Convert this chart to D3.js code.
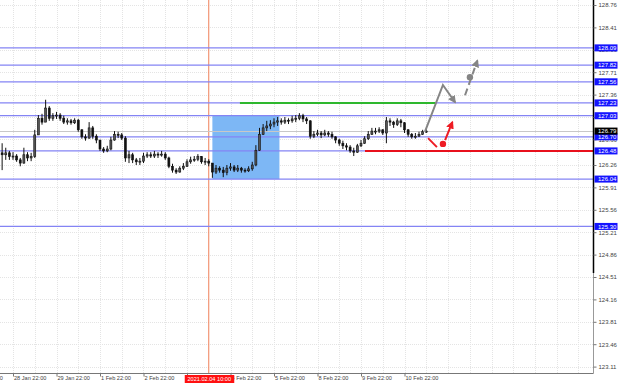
<!DOCTYPE html>
<html>
<head>
<meta charset="utf-8">
<script src="https://cdn.jsdelivr.net/npm/d3@7"></script>
<style>
body { margin: 0; background: #fff; }
</style>
</head>
<body>
<div id="canvas"></div>
<script>
"use strict"

let svgWidth = 620
let svgHeight = 385
let plotRight = 593.5
let plotBottom = 373.5

/* 2-hour bars, the first one starts 7 hours before 28 Jan 22:00 (hour 0) */
let firstBarHour = -7
let barHours = 2
let firstOpen = 126.45
let barClose = [126.42, 126.45, 126.39, 126.40, 126.34, 126.29, 126.42, 126.37, 126.39, 126.73,
    126.99, 126.93, 127.15, 126.99, 127.03, 127.04, 126.99, 126.93, 126.95, 126.92,
    126.96, 126.81, 126.70, 126.68, 126.84, 126.71, 126.65, 126.51, 126.48, 126.51,
    126.65, 126.74, 126.73, 126.68, 126.37, 126.42, 126.34, 126.31, 126.32, 126.40,
    126.42, 126.40, 126.43, 126.42, 126.43, 126.37, 126.24, 126.18, 126.15, 126.21,
    126.24, 126.31, 126.34, 126.35, 126.39, 126.31, 126.32, 126.29, 126.15, 126.21,
    126.18, 126.14, 126.21, 126.23, 126.18, 126.21, 126.18, 126.17, 126.20, 126.26,
    126.49, 126.74, 126.84, 126.87, 126.90, 126.93, 126.95, 126.93, 126.96, 126.95,
    126.98, 126.99, 127.03, 126.98, 126.95, 126.71, 126.74, 126.76, 126.73, 126.76,
    126.74, 126.70, 126.65, 126.60, 126.56, 126.54, 126.48, 126.46, 126.56, 126.60,
    126.67, 126.74, 126.79, 126.79, 126.81, 126.76, 126.95, 126.93, 126.89, 126.95,
    126.92, 126.81, 126.74, 126.70, 126.71, 126.74, 126.78, 126.79]
let barHigh = [126.60, 126.53, 126.48, 126.46, 126.43, 126.37, 126.53, 126.46, 126.45, 126.81,
    127.04, 127.06, 127.28, 127.18, 127.07, 127.09, 127.07, 127.03, 126.99, 126.98,
    126.99, 126.98, 126.82, 126.74, 126.93, 126.87, 126.74, 126.65, 126.54, 126.56,
    126.70, 126.79, 126.78, 126.76, 126.71, 126.48, 126.45, 126.37, 126.37, 126.45,
    126.46, 126.46, 126.48, 126.46, 126.48, 126.46, 126.39, 126.28, 126.21, 126.24,
    126.29, 126.35, 126.39, 126.40, 126.43, 126.40, 126.37, 126.35, 126.29, 126.26,
    126.24, 126.23, 126.26, 126.29, 126.26, 126.26, 126.23, 126.21, 126.24, 126.31,
    126.57, 126.84, 126.90, 126.95, 126.96, 126.99, 127.01, 126.99, 127.01, 126.99,
    127.03, 127.04, 127.07, 127.06, 127.01, 126.96, 126.79, 126.81, 126.79, 126.81,
    126.79, 126.78, 126.71, 126.67, 126.64, 126.60, 126.57, 126.53, 126.59, 126.65,
    126.71, 126.79, 126.84, 126.84, 126.85, 126.82, 127.01, 126.99, 126.95, 126.99,
    126.98, 126.93, 126.82, 126.76, 126.76, 126.78, 126.81, 126.82]
let barLow = [126.18, 126.34, 126.34, 126.34, 126.31, 126.24, 126.28, 126.32, 126.32, 126.37,
    126.73, 126.89, 126.93, 126.95, 126.95, 126.98, 126.95, 126.90, 126.89, 126.89,
    126.90, 126.78, 126.67, 126.64, 126.67, 126.67, 126.60, 126.48, 126.45, 126.46,
    126.49, 126.64, 126.68, 126.65, 126.31, 126.29, 126.29, 126.26, 126.26, 126.29,
    126.37, 126.37, 126.37, 126.37, 126.39, 126.34, 126.21, 126.14, 126.12, 126.14,
    126.18, 126.23, 126.28, 126.31, 126.32, 126.28, 126.26, 126.24, 126.06, 126.12,
    126.14, 126.07, 126.10, 126.17, 126.15, 126.15, 126.14, 126.14, 126.15, 126.17,
    126.24, 126.48, 126.73, 126.79, 126.82, 126.85, 126.87, 126.89, 126.90, 126.90,
    126.92, 126.93, 126.96, 126.93, 126.90, 126.67, 126.68, 126.71, 126.68, 126.71,
    126.70, 126.67, 126.60, 126.56, 126.51, 126.49, 126.45, 126.40, 126.45, 126.54,
    126.59, 126.65, 126.73, 126.74, 126.76, 126.73, 126.60, 126.87, 126.84, 126.87,
    126.85, 126.76, 126.70, 126.67, 126.67, 126.70, 126.73, 126.76]

/* time axis: hours from 28 Jan 22:00, trading hours only */
let dayHours = [-24, 0, 24, 48, 72, 96, 120, 144, 168, 192, 216]
let dayLabels = ["27 Jan 22:00", "28 Jan 22:00", "29 Jan 22:00", "1 Feb 22:00", "2 Feb 22:00",
    "3 Feb 22:00", "4 Feb 22:00", "5 Feb 22:00", "8 Feb 22:00", "9 Feb 22:00", "10 Feb 22:00"]
let gridHours = [-24, -12, 0, 12, 24, 36, 48, 60, 72, 84, 96, 120, 132, 144, 156, 168, 180,
    192, 204, 216, 228, 240, 252, 264, 276, 288, 300, 312, 324]
let markHour = 108
let markLabel = "2021.02.04 10:00"

/* price axis */
let priceTicks = [128.76, 128.41, 128.06, 127.71, 127.36, 127.01, 126.66, 126.26, 125.91, 125.56,
    125.21, 124.86, 124.51, 124.16, 123.81, 123.46, 123.11]
let levelPrices = [128.09, 127.82, 127.56, 127.23, 127.03, 126.70, 126.48, 126.04, 125.30]
let lastPrice = 126.79

/* drawn objects */
let zoneHours = [110, 147]
let zonePrices = [127.03, 126.04]
let greenHours = [125.2, 233]
let greenPrice = 127.23
let redHours = [194.2, 330]
let redPrice = 126.48
let grayPathHours = [227.3, 237.2, 243.9]
let grayPathPrices = [126.78, 127.51, 127.24]
let grayDashHours = [249.4, 256.2]
let grayDashPrices = [127.35, 127.89]
let grayDot = [252.1, 127.63]
let redDashHours = [229, 233.9]
let redDashPrices = [126.68, 126.54]
let redDot = [237.2, 126.59]
let redArrowHours = [238.4, 242.4]
let redArrowPrices = [126.65, 126.93]

let svg = d3.select("#canvas")
    .append("svg")
    .attr("width", svgWidth)
    .attr("height", svgHeight)
    .style("font-family", "'Liberation Sans', Arial, sans-serif")

let xScale = d3.scaleLinear().domain([0, 216]).range([13, 404.5])
let yScale = d3.scaleLinear().domain([123.11, 128.76]).range([366.6, 5])

/* build bar table */
let bars = barClose.map(function (c, i) {
    return {
        hour: firstBarHour + i * barHours + barHours / 2,
        open: i === 0 ? firstOpen : barClose[i - 1],
        close: c,
        high: barHigh[i],
        low: barLow[i]
    }
})

let defs = svg.append("defs")
function arrowMarker(id, color) {
    defs.append("marker")
        .attr("id", id)
        .attr("viewBox", "0 0 10 10")
        .attr("refX", 8)
        .attr("refY", 5)
        .attr("markerWidth", 4)
        .attr("markerHeight", 4)
        .attr("orient", "auto")
        .append("path")
        .attr("d", "M0,0 L10,5 L0,10 z")
        .attr("fill", color)
}
arrowMarker("arrowGray", "#858585")
arrowMarker("arrowRed", "#ee1c24")

let plot = svg.append("g")
svg.append("clipPath").attr("id", "plotClip")
    .append("rect").attr("width", plotRight).attr("height", plotBottom)
plot.attr("clip-path", "url(#plotClip)")

/* grid */
plot.selectAll("line.vgrid")
    .data(gridHours)
    .join("line")
    .classed("vgrid", true)
    .attr("x1", d => Math.round(xScale(d)) + 0.5)
    .attr("x2", d => Math.round(xScale(d)) + 0.5)
    .attr("y1", 0)
    .attr("y2", plotBottom)
    .attr("stroke", "#e4e4e4")
    .attr("stroke-dasharray", "1,1")

plot.selectAll("line.hgrid")
    .data(priceTicks)
    .join("line")
    .classed("hgrid", true)
    .attr("x1", 0)
    .attr("x2", plotRight)
    .attr("y1", d => Math.round(yScale(d)) + 0.5)
    .attr("y2", d => Math.round(yScale(d)) + 0.5)
    .attr("stroke", "#e4e4e4")
    .attr("stroke-dasharray", "1,1")

/* blue zone */
plot.append("rect")
    .attr("x", xScale(zoneHours[0]))
    .attr("y", yScale(zonePrices[0]))
    .attr("width", xScale(zoneHours[1]) - xScale(zoneHours[0]))
    .attr("height", yScale(zonePrices[1]) - yScale(zonePrices[0]))
    .attr("fill", "#7db7f5")

/* vertical time marker */
plot.append("rect")
    .attr("x", xScale(markHour) - 0.5)
    .attr("y", 0)
    .attr("width", 1)
    .attr("height", plotBottom)
    .attr("fill", "#f0805a")

/* horizontal levels */
plot.selectAll("line.level")
    .data(levelPrices)
    .join("line")
    .classed("level", true)
    .attr("x1", 0)
    .attr("x2", plotRight)
    .attr("y1", d => yScale(d))
    .attr("y2", d => yScale(d))
    .attr("stroke", "#8484f4")
    .attr("stroke-width", 1.3)

/* bid line */
plot.append("line")
    .attr("x1", 0)
    .attr("x2", plotRight)
    .attr("y1", Math.round(yScale(lastPrice)) + 0.5)
    .attr("y2", Math.round(yScale(lastPrice)) + 0.5)
    .attr("stroke", "#c8c8c8")

/* candles */
plot.selectAll("line.wick")
    .data(bars)
    .join("line")
    .classed("wick", true)
    .attr("x1", d => xScale(d.hour))
    .attr("x2", d => xScale(d.hour))
    .attr("y1", d => yScale(d.high))
    .attr("y2", d => yScale(d.low))
    .attr("stroke", "#111")
    .attr("stroke-width", 1)

plot.selectAll("rect.body")
    .data(bars)
    .join("rect")
    .classed("body", true)
    .attr("x", d => xScale(d.hour) - 1)
    .attr("width", 2)
    .attr("y", d => yScale(Math.max(d.open, d.close)))
    .attr("height", d => Math.max(1, Math.abs(yScale(d.open) - yScale(d.close))))
    .attr("fill", d => d.close >= d.open ? "#555" : "#111")
    .attr("stroke", "#111")
    .attr("stroke-width", 0.6)

/* green and red lines */
plot.append("line")
    .attr("x1", xScale(greenHours[0]))
    .attr("x2", xScale(greenHours[1]))
    .attr("y1", yScale(greenPrice))
    .attr("y2", yScale(greenPrice))
    .attr("stroke", "#2eb82e")
    .attr("stroke-width", 2)

plot.append("line")
    .attr("x1", xScale(redHours[0]))
    .attr("x2", xScale(redHours[1]))
    .attr("y1", yScale(redPrice))
    .attr("y2", yScale(redPrice))
    .attr("stroke", "#e8101c")
    .attr("stroke-width", 2)

/* forecast arrows */
let line = d3.line().x(d => xScale(d[0])).y(d => yScale(d[1]))

plot.append("path")
    .attr("d", line(d3.zip(grayPathHours, grayPathPrices)))
    .attr("fill", "none")
    .attr("stroke", "#858585")
    .attr("stroke-width", 2)
    .attr("marker-end", "url(#arrowGray)")

plot.append("path")
    .attr("d", line(d3.zip(grayDashHours, grayDashPrices)))
    .attr("fill", "none")
    .attr("stroke", "#858585")
    .attr("stroke-width", 2)
    .attr("stroke-dasharray", "7,4")
    .attr("marker-end", "url(#arrowGray)")

plot.append("circle")
    .attr("cx", xScale(grayDot[0]))
    .attr("cy", yScale(grayDot[1]))
    .attr("r", 3.2)
    .attr("fill", "#858585")

plot.append("path")
    .attr("d", line(d3.zip(redDashHours, redDashPrices)))
    .attr("fill", "none")
    .attr("stroke", "#ee1c24")
    .attr("stroke-width", 2)

plot.append("circle")
    .attr("cx", xScale(redDot[0]))
    .attr("cy", yScale(redDot[1]))
    .attr("r", 3.2)
    .attr("fill", "#ee1c24")

plot.append("path")
    .attr("d", line(d3.zip(redArrowHours, redArrowPrices)))
    .attr("fill", "none")
    .attr("stroke", "#ee1c24")
    .attr("stroke-width", 2)
    .attr("marker-end", "url(#arrowRed)")

/* frame */
svg.append("line")
    .attr("x1", 0).attr("x2", plotRight)
    .attr("y1", plotBottom).attr("y2", plotBottom)
    .attr("stroke", "#777")
svg.append("line")
    .attr("x1", plotRight).attr("x2", plotRight)
    .attr("y1", 0).attr("y2", 273)
    .attr("stroke", "#000")
    .attr("stroke-width", 1.5)
svg.append("line")
    .attr("x1", plotRight).attr("x2", plotRight)
    .attr("y1", 273).attr("y2", plotBottom)
    .attr("stroke", "#999")

/* time axis */
let xAxis = svg.append("g")
    .attr("transform", `translate(0,${plotBottom})`)
    .call(d3.axisBottom(xScale)
        .tickValues(dayHours)
        .tickFormat((d, i) => dayLabels[i])
        .tickSize(3)
        .tickSizeOuter(0))
xAxis.select(".domain").remove()
xAxis.selectAll(".tick line").attr("stroke", "#777")
xAxis.selectAll(".tick text")
    .attr("text-anchor", "start")
    .attr("x", 0.5)
    .attr("y", 3)
    .attr("fill", "#444")
    .style("font-size", "5.6px")
    .style("font-family", "'Liberation Sans', Arial, sans-serif")

/* price axis */
let yAxis = svg.append("g")
    .attr("transform", `translate(${plotRight},0)`)
    .call(d3.axisRight(yScale)
        .tickValues(priceTicks)
        .tickFormat(d3.format(".2f"))
        .tickSize(3)
        .tickSizeOuter(0))
yAxis.select(".domain").remove()
yAxis.selectAll(".tick line").attr("stroke", "#777")
yAxis.selectAll(".tick text")
    .attr("x", 5)
    .attr("fill", "#444")
    .style("font-size", "6px")
    .style("font-family", "'Liberation Sans', Arial, sans-serif")

/* level labels on price axis */
function priceBox(v, fill) {
    let y = yScale(v)
    svg.append("rect")
        .attr("x", plotRight + 1)
        .attr("y", y - 3.5)
        .attr("width", 23)
        .attr("height", 7)
        .attr("fill", fill)
    svg.append("text")
        .attr("x", plotRight + 4.5)
        .attr("y", y)
        .attr("dy", "0.35em")
        .attr("fill", "#fff")
        .style("font-size", "6px")
        .text(d3.format(".2f")(v))
}
levelPrices.forEach(v => priceBox(v, "#1414ff"))
priceBox(lastPrice, "#000")

/* time marker label */
svg.append("rect")
    .attr("x", xScale(markHour) - 24)
    .attr("y", plotBottom + 1.5)
    .attr("width", 49.5)
    .attr("height", 8)
    .attr("fill", "#ff1010")
svg.append("text")
    .attr("x", xScale(markHour) + 0.5)
    .attr("y", plotBottom + 5.5)
    .attr("dy", "0.35em")
    .attr("text-anchor", "middle")
    .attr("fill", "#fff")
    .style("font-size", "5.6px")
    .text(markLabel)
</script>
</body>
</html>
